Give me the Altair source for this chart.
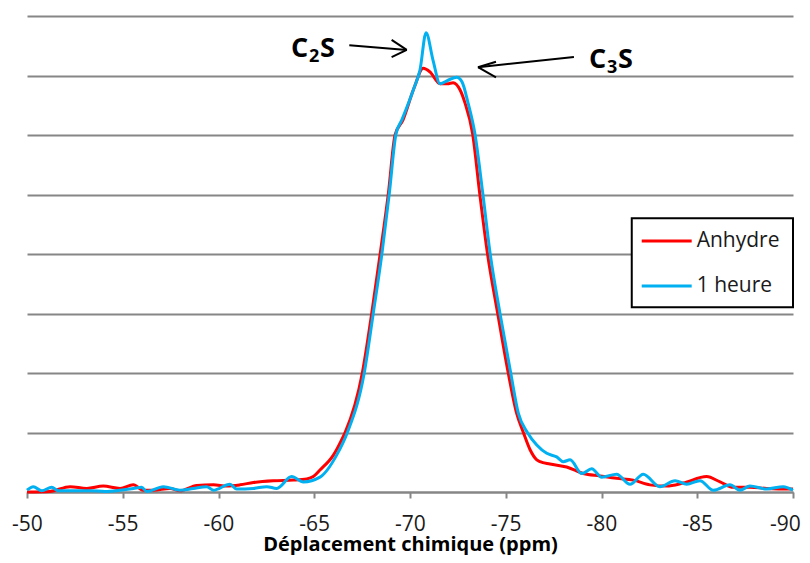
import altair as alt
import pandas as pd

# ---- data ----
red_ppm = [-50.0, -51.2, -52.25, -53.12, -53.98, -54.86, -55.55, -56.07, -56.6, -57.47, -57.99,
           -58.86, -59.73, -60.43, -61.12, -61.82, -62.86, -63.91, -64.61, -64.95, -65.3, -66.0,
           -66.51, -66.61, -67.51, -68.0, -68.45, -68.87, -69.22, -69.63, -70.21, -70.69, -71.04,
           -71.57, -71.95, -72.25, -72.61, -72.87, -73.27, -73.64, -74.04, -74.58, -75.13, -75.57,
           -75.92, -76.27, -76.62, -76.79, -77.31, -78.18, -79.05, -79.92, -80.79, -81.66, -82.53,
           -83.4, -84.27, -85.49, -86.19, -86.88, -87.75, -88.63, -89.84, -90.0]
red_int = [0.0, 0.01, 0.09, 0.06, 0.1, 0.06, 0.12, 0.03, 0.03, 0.06, 0.02,
           0.11, 0.12, 0.1, 0.12, 0.16, 0.19, 0.2, 0.22, 0.26, 0.37, 0.62,
           0.93, 1.0, 2.0, 3.0, 4.02, 5.02, 6.0, 6.25, 6.79, 7.12, 7.06,
           6.86, 6.86, 6.88, 6.76, 6.54, 6.02, 5.02, 4.02, 3.0, 2.0, 1.32,
           1.0, 0.71, 0.54, 0.51, 0.47, 0.42, 0.31, 0.27, 0.23, 0.2, 0.12,
           0.1, 0.15, 0.26, 0.17, 0.08, 0.08, 0.06, 0.05, 0.05]

blue_ppm = [-50.0, -50.33, -50.77, -51.29, -51.63, -52.25, -53.29, -54.07, -54.86, -55.55, -55.99,
            -56.25, -57.12, -57.99, -58.68, -59.38, -59.73, -60.6, -60.95, -61.82, -62.52, -63.04,
            -63.82, -64.43, -65.3, -66.17, -66.73, -67.61, -68.08, -68.54, -68.92, -69.27, -69.57,
            -70.21, -70.52, -70.84, -71.2, -71.57, -71.99, -72.44, -72.72, -73.03, -73.39, -73.8,
            -74.18, -74.7, -75.26, -75.66, -76.13, -76.62, -77.14, -77.66, -78.01, -78.36, -78.97,
            -79.49, -80.01, -80.79, -81.49, -82.18, -83.05, -83.84, -84.45, -85.14, -85.84, -86.71,
            -87.23, -87.75, -88.63, -89.49, -90.0]
blue_int = [0.03, 0.09, 0.02, 0.08, 0.02, 0.02, 0.02, 0.01, 0.03, 0.06, 0.08,
            0.01, 0.09, 0.03, 0.06, 0.09, 0.03, 0.13, 0.05, 0.06, 0.09, 0.06,
            0.26, 0.17, 0.25, 0.62, 1.0, 2.0, 3.0, 4.02, 5.02, 6.02, 6.25,
            6.79, 7.09, 7.72, 7.26, 6.86, 6.92, 6.97, 6.89, 6.54, 6.02, 5.02,
            4.02, 3.0, 2.0, 1.32, 1.0, 0.79, 0.65, 0.59, 0.51, 0.54, 0.31,
            0.39, 0.25, 0.3, 0.13, 0.3, 0.09, 0.19, 0.13, 0.19, 0.03, 0.12,
            0.03, 0.1, 0.05, 0.09, 0.03]

series_names = ["Anhydre", "1 heure"]
series_colors = ["#FF0000", "#00B0F0"]
x_ticks = [-50, -55, -60, -65, -70, -75, -80, -85, -90]
y_grid = [0, 1, 2, 3, 4, 5, 6, 7, 8]

# annotations: "C<sub>n</sub>S" labels (ppm, intensity of the text baseline)
ann_main = ["C", "C"]
ann_sub = ["2", "3"]
ann_x = [-63.79, -79.35]
ann_y = [7.31, 7.13]

# arrow segments (ppm, intensity)
arr_x = [-66.83, -69.04, -69.04, -78.56, -74.49, -74.49]
arr_x2 = [-69.83, -69.83, -69.83, -73.55, -73.55, -73.55]
arr_y = [7.51, 7.60, 7.31, 7.31, 7.23, 6.97]
arr_y2 = [7.43, 7.43, 7.43, 7.14, 7.14, 7.14]

# legend box placement (ppm, intensity)
leg_box = {"x": -81.58, "x2": -90.0, "y": 4.60, "y2": 3.104}
leg_sym_x, leg_sym_x2, leg_lab_x = -82.10, -84.71, -84.97
leg_y = [4.218, 3.462]

df_red = pd.DataFrame({"ppm": red_ppm, "intensity": red_int, "series": series_names[0]})
df_blue = pd.DataFrame({"ppm": blue_ppm, "intensity": blue_int, "series": series_names[1]})
df_ann = pd.DataFrame({"c": ann_main, "n": ann_sub, "s": ["S", "S"], "x": ann_x, "y": ann_y})
df_arr = pd.DataFrame({"x": arr_x, "x2": arr_x2, "y": arr_y, "y2": arr_y2})
df_leg = pd.DataFrame({"series": series_names, "y": leg_y, "x": leg_sym_x, "x2": leg_sym_x2,
                       "lx": leg_lab_x})
df_box = pd.DataFrame([leg_box])

FONT = "Open Sans"
GRID = "#868686"

x_scale = alt.Scale(domain=[-90, -50], reverse=True, nice=False, zero=False)
y_scale = alt.Scale(domain=[0, 8], nice=False)
color_scale = alt.Scale(domain=series_names, range=series_colors)

x_enc = alt.X("ppm:Q", scale=x_scale,
              axis=alt.Axis(values=x_ticks, title="Déplacement chimique (ppm)", grid=False,
                            labelExpr="'' + datum.value", labelFlush=False, labelFont=FONT,
                            labelFontSize=21, labelColor="#1a1a1a", labelPadding=15, tickSize=6,
                            labelOffset=alt.ConditionalAxisNumber(
                                condition={"test": "datum.value == -90", "value": -8}, value=0),
                            tickColor=GRID, tickWidth=2, domainColor=GRID, domainWidth=2,
                            titleFont=FONT, titleFontSize=20, titleFontWeight="bold",
                            titleColor="#000000", titleBaseline="alphabetic", titleY=58))
y_enc = alt.Y("intensity:Q", scale=y_scale,
              axis=alt.Axis(values=y_grid, labels=False, ticks=False, domain=False, title=None,
                            grid=True, gridColor=GRID, gridWidth=2))
col = alt.Color("series:N", scale=color_scale, legend=None)

red = alt.Chart(df_red).mark_line(strokeWidth=3, interpolate="monotone").encode(
    x=x_enc, y=y_enc, color=col)
blue = alt.Chart(df_blue).mark_line(strokeWidth=3, interpolate="monotone").encode(
    x="ppm:Q", y="intensity:Q", color=col)

arrows = alt.Chart(df_arr).mark_rule(color="black", strokeWidth=2).encode(
    x="x:Q", x2="x2:Q", y="y:Q", y2="y2:Q")

txt = dict(font=FONT, fontWeight="bold", color="black", align="left", baseline="alphabetic")
ann_c = alt.Chart(df_ann).mark_text(fontSize=27, **txt).encode(x="x:Q", y="y:Q", text="c:N")
ann_n = alt.Chart(df_ann).mark_text(fontSize=18, dx=18, dy=5, **txt).encode(
    x="x:Q", y="y:Q", text="n:N")
ann_s = alt.Chart(df_ann).mark_text(fontSize=27, dx=29, **txt).encode(x="x:Q", y="y:Q", text="s:N")

box = alt.Chart(df_box).mark_rect(fill="white", stroke="black", strokeWidth=2).encode(
    x="x:Q", x2="x2:Q", y="y:Q", y2="y2:Q")
leg_sym = alt.Chart(df_leg).mark_rule(strokeWidth=3).encode(
    x="x:Q", x2="x2:Q", y="y:Q", color=col)
leg_lab = alt.Chart(df_leg).mark_text(font=FONT, fontSize=21, color="#1a1a1a", align="left",
                                      baseline="middle").encode(x="lx:Q", y="y:Q", text="series:N")

chart = alt.layer(red, blue, arrows, ann_c, ann_n, ann_s, box, leg_sym, leg_lab).properties(
    width=766, height=476,
    autosize=alt.AutoSizeParams(type="none"),
    padding={"left": 19, "top": 8, "right": 9, "bottom": 63},
).configure_view(stroke=None)

chart.save("out.html", embed_options={"renderer": "svg", "actions": False})
